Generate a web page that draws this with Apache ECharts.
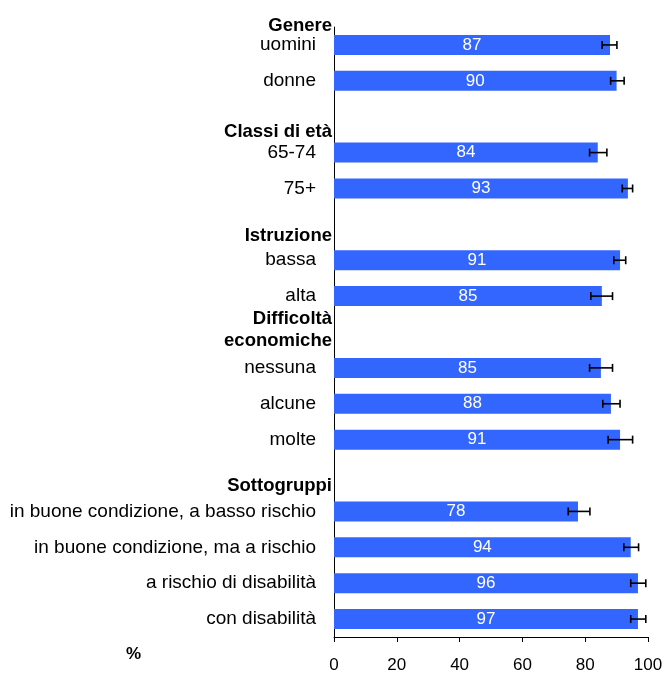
<!DOCTYPE html>
<html>
<head>
<meta charset="utf-8">
<script src="https://cdn.jsdelivr.net/npm/echarts@6/dist/echarts.min.js"></script>
<style>html,body{margin:0;padding:0;background:#fff}#chart{width:666px;height:673px}</style>
</head>
<body>
<div id="chart"></div>
<script>
// categories (group headers are empty rows of the axis)
var categories = ['uomini', 'donne', 'Classi di età', '65-74', '75+', 'Istruzione', 'bassa', 'alta',
    'Difficoltà\neconomiche', 'nessuna', 'alcune', 'molte', 'Sottogruppi',
    'in buone condizione, a basso rischio', 'in buone condizione, ma a rischio', 'a rischio di disabilità', 'con disabilità'];
var values = [87.9, 90.0, '-', 84.0, 93.6, '-', 91.1, 85.3, '-', 85.0, 88.2, 91.1, '-', 77.7, 94.5, 96.8, 96.8];
var shown = [87, 90, '', 84, 93, '', 91, 85, '', 85, 88, 91, '', 78, 94, 96, 97];
var ciLow = [85.4, 88.1, null, 81.4, 91.8, null, 89.1, 81.8, null, 81.4, 85.6, 87.3, null, 74.6, 92.3, 94.5, 94.5];
var ciHigh = [90.1, 92.4, null, 86.9, 95.1, null, 92.9, 88.7, null, 88.7, 91.1, 95.1, null, 81.5, 97.0, 99.3, 99.3];
var firstHeader = 'Genere';
var headers = {'Classi di età': 'h2', 'Istruzione': 'h3', 'Difficoltà\neconomiche': 'h4', 'Sottogruppi': 'h5'};

var font = 'Liberation Sans, Arial, sans-serif';
var chart = echarts.init(document.getElementById('chart'));

var errData = [];
for (var i = 0; i < categories.length; i++) {
    if (ciLow[i] != null) errData.push([ciLow[i], ciHigh[i], i]);
}

function hStyle(pad) {
    return {fontFamily: font, fontSize: 18.5, fontWeight: 'bold', color: '#000', lineHeight: 22, padding: pad};
}

var option = {
    animation: false,
    backgroundColor: '#fff',
    title: [
        {
            text: '%', left: 121, top: 641,
            textStyle: {fontFamily: font, fontSize: 17, fontWeight: 'bold', color: '#000'}
        },
        {
            text: firstHeader, right: 334, top: 16, padding: 0,
            textStyle: {fontFamily: font, fontSize: 18.5, fontWeight: 'bold', color: '#000'}
        }
    ],
    grid: {left: 334, right: 18, top: 27, bottom: 36, outerBoundsMode: 'none'},
    xAxis: {
        type: 'value', min: 0, max: 100, interval: 20,
        axisLine: {show: true, lineStyle: {color: '#000', width: 1}},
        axisTick: {show: true, length: 5, lineStyle: {color: '#000'}},
        splitLine: {show: false},
        axisLabel: {fontFamily: font, fontSize: 17, color: '#000', margin: 20}
    },
    yAxis: {
        type: 'category', inverse: true, data: categories,
        axisLine: {show: true, lineStyle: {color: '#000', width: 1}},
        axisTick: {show: false},
        axisLabel: {
            interval: 0, margin: 2,
            formatter: function (v) {
                var h = headers[v];
                if (h) {
                    return v.split('\n').map(function (s) { return '{' + h + '|' + s + '}'; }).join('\n');
                }
                return '{n|' + v + '}';
            },
            rich: {
                n: {fontFamily: font, fontSize: 19, color: '#000', padding: [0, 16, 0, 0]},
                h2: hStyle([31, 0, 0, 0]),
                h3: hStyle([24, 0, 0, 0]),
                h4: hStyle([0, 0, 5, 0]),
                h5: hStyle([21, 0, 0, 0])
            }
        }
    },
    series: [
        {
            type: 'bar',
            data: values,
            barWidth: 20,
            itemStyle: {color: '#3366FF'},
            label: {
                show: true, position: 'inside', color: '#fff',
                fontFamily: font, fontSize: 17,
                formatter: function (p) { return shown[p.dataIndex]; }
            }
        },
        {
            type: 'custom',
            data: errData,
            encode: {x: [0, 1], y: 2},
            z: 5,
            renderItem: function (params, api) {
                var idx = api.value(2);
                var a = api.coord([api.value(0), idx]);
                var b = api.coord([api.value(1), idx]);
                var h = 4;
                var st = {stroke: '#000', lineWidth: 1.6};
                return {
                    type: 'group',
                    children: [
                        {type: 'line', shape: {x1: a[0], y1: a[1], x2: b[0], y2: b[1]}, style: st},
                        {type: 'line', shape: {x1: a[0], y1: a[1] - h, x2: a[0], y2: a[1] + h}, style: st},
                        {type: 'line', shape: {x1: b[0], y1: b[1] - h, x2: b[0], y2: b[1] + h}, style: st}
                    ]
                };
            }
        }
    ]
};

chart.setOption(option);
</script>
</body>
</html>
